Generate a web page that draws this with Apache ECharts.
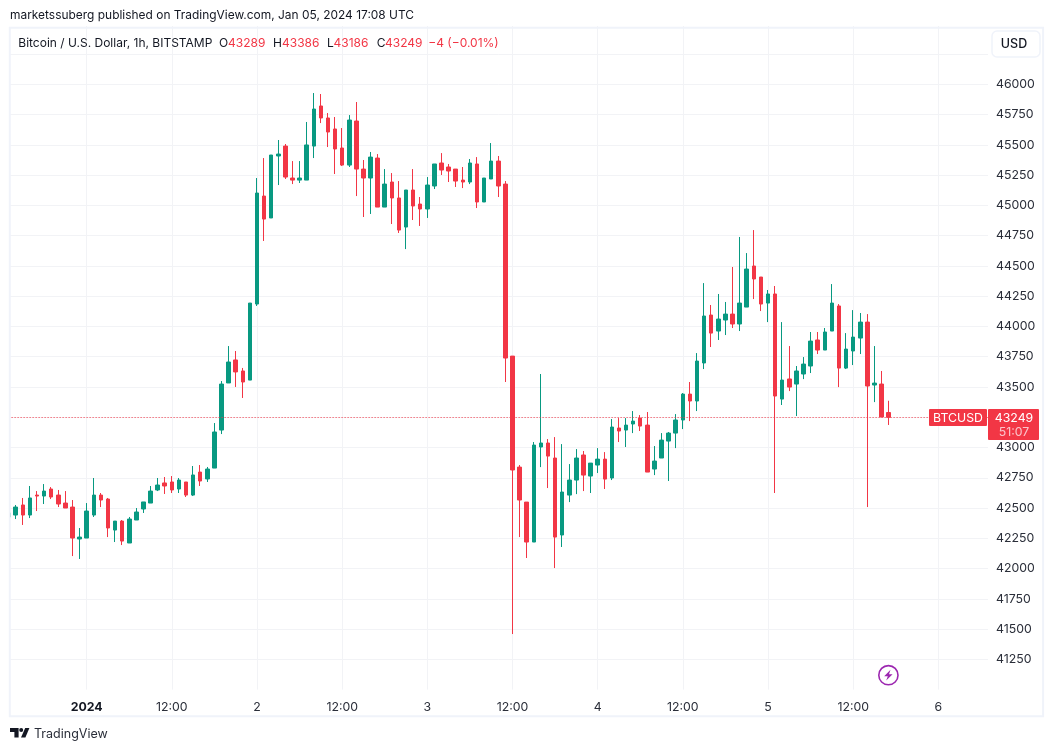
<!DOCTYPE html>
<html>
<head>
<meta charset="utf-8">
<style>html,body{margin:0;padding:0;background:#fff}#c{width:1054px;height:751px}</style>
<script src="https://cdn.jsdelivr.net/npm/echarts@6/dist/echarts.min.js"></script>
</head>
<body>
<div id="c"></div>
<script>
const opens = [
42426,42442,42525,42442,42607,42599,42657,42607,42541,42508,
42244,42252,42442,42607,42574,42318,42392,42211,42401,42492,
42541,42649,42707,42715,42657,42715,42607,42797,42740,42830,
43144,43533,43723,43632,43557,44185,45077,44896,45408,45490,
45226,45209,45209,45490,45821,45722,45631,45474,45333,45697,
45300,45226,45391,44986,45193,45061,44821,45127,45011,44970,
45160,45350,45317,45300,45209,45193,45342,45028,45218,45366,
45176,43755,42838,42549,42219,43004,43037,42913,42277,42607,
42731,42938,42764,42855,42904,42748,43161,43144,43194,43243,
43185,42822,42913,43053,43119,43227,43441,43384,43698,44094,
43962,44053,44102,44020,44160,44499,44408,44193,44268,43400,
43566,43524,43607,43673,43888,43805,43962,44169,43656,43797,
43904,44036,43516,43524,43289];
const closes = [
42459,42508,42442,42583,42599,42640,42591,42533,42500,42252,
42260,42475,42607,42566,42335,42392,42227,42409,42467,42550,
42640,42690,42682,42649,42731,42607,42773,42723,42822,43128,
43524,43706,43624,43541,44193,45102,44887,45416,45424,45234,
45209,45226,45499,45796,45722,45606,45466,45333,45705,45300,
45226,45399,44986,45176,45061,44796,45127,44995,44970,45168,
45342,45292,45284,45201,45193,45350,45028,45226,45366,45160,
43739,42814,42566,42219,43020,43037,42929,42260,42632,42731,
42913,42772,42871,42904,42739,43169,43136,43185,43218,43177,
42797,42888,43061,43119,43227,43441,43384,43714,44086,43945,
44061,44102,44020,44193,44474,44392,44185,44268,43425,43557,
43499,43632,43689,43879,43805,43954,44193,43656,43813,43912,
44036,43508,43532,43252,43249];
const lows = [
42410,42409,42360,42417,42475,42533,42574,42508,42500,42103,
42079,42252,42426,42508,42260,42219,42194,42211,42401,42459,
42541,42640,42616,42624,42624,42591,42599,42682,42715,42830,
43111,43533,43500,43409,43557,44169,44706,44896,45168,45218,
45176,45185,45209,45391,45680,45482,45259,45325,45317,45077,
44904,44929,44986,44986,44846,44772,44639,44879,44830,44896,
45135,45251,45193,45152,45143,45176,44978,45028,45218,45069,
43541,41459,42260,42087,42219,42838,42665,42004,42178,42549,
42615,42640,42624,42789,42657,42731,43045,43004,43119,43136,
42797,42772,42913,42723,42995,43152,43218,43301,43648,43830,
43888,43929,43987,43962,44160,44226,44127,44036,42624,43351,
43466,43260,43565,43615,43772,43805,43962,43499,43648,43681,
43772,42508,43375,43252,43186];
const highs = [
42470,42525,42583,42682,42640,42698,42673,42649,42640,42566,
42335,42541,42748,42624,42583,42392,42401,42426,42500,42550,
42682,42748,42756,42764,42748,42715,42847,42855,42839,43202,
43549,43838,43797,43657,44193,45226,45391,45416,45540,45507,
45366,45366,45689,45928,45920,45763,45730,45639,45746,45854,
45375,45441,45424,45300,45267,45201,45127,45300,45069,45234,
45342,45432,45342,45300,45317,45383,45399,45226,45515,45408,
45201,43755,42855,42549,43045,43607,43070,43086,43028,42863,
42987,42971,42871,42995,42962,43235,43243,43243,43301,43268,
43293,43012,43119,43128,43276,43450,43541,43780,44358,44177,
44268,44202,44491,44739,44606,44796,44408,44301,44334,44036,
43838,43673,43747,43954,43954,43987,44350,44185,43945,44135,
44111,44102,43838,43632,43386];
const tickLabels = {11:'2024',23:'12:00',35:'2',47:'12:00',59:'3',71:'12:00',83:'4',95:'12:00',107:'5',119:'12:00',131:'6'};
const hiddenPriceLabel = 46250;
const lastPrice = 43249;
const countdown = '51:07';
const categories = [];
for (let i = 0; i < 139; i++) categories.push('h' + i);
const candles = opens.map((o, i) => [o, closes[i], lows[i], highs[i]]);

const RED = '#F23645', GREEN = '#089981', INK = '#131722', FRAME = '#F0F3FA', GRID = '#F2F3F6';
const FONT = 'Inter, "Noto Sans", sans-serif';
const isTick = (i) => tickLabels[i] !== undefined;

const chart = echarts.init(document.getElementById('c'), null, {renderer: 'canvas', width: 1054, height: 751});

const txt = (x, y, text, o) => ({type: 'text', z: 120, x, y, silent: true, style: Object.assign({
  text, fill: INK, font: '11.95px ' + FONT, textVerticalAlign: 'middle', textAlign: 'left'}, o || {})});
const head = (x, text, fill, size) => txt(x, 43, text, {fill: fill || INK, font: (size || 12) + 'px ' + FONT});

chart.setOption({
  animation: false,
  backgroundColor: '#fff',
  grid: {left: 8.6, right: 66, top: 23.8, bottom: 61.4, containLabel: false},
  xAxis: {
    type: 'category', data: categories, boundaryGap: false,
    axisLine: {show: false}, axisTick: {show: false},
    splitLine: {show: true, interval: (i) => isTick(i), lineStyle: {color: GRID, width: 1}},
    axisLabel: {
      show: true, interval: (i) => isTick(i), margin: 12,
      formatter: (v, i) => i === 11 ? '{b|' + tickLabels[i] + '}' : (tickLabels[i] || ''),
      color: '#2A2E39', fontFamily: FONT, fontSize: 12.3,
      rich: {b: {fontFamily: FONT, fontSize: 12.3, fontWeight: 700, color: INK}}
    }
  },
  yAxis: {
    type: 'value', position: 'right', min: 41000, max: 46500, interval: 250, scale: true,
    axisLine: {show: false}, axisTick: {show: false},
    splitLine: {show: true, showMinLine: false, showMaxLine: false, lineStyle: {color: GRID, width: 1}},
    axisLabel: {show: true, showMinLabel: false, showMaxLabel: false, margin: 8, color: '#2A2E39', fontFamily: FONT, fontSize: 12.3, align: 'left', formatter: (v) => v === hiddenPriceLabel ? '' : String(v)}
  },
  series: [{
    type: 'candlestick', data: candles, barWidth: 4, clip: true,
    itemStyle: {color: GREEN, color0: RED, borderColor: GREEN, borderColor0: RED, borderWidth: 1},
    markLine: {
      silent: true, symbol: 'none', animation: false, label: {show: false},
      lineStyle: {color: RED, type: [1, 2], width: 1, opacity: 1},
      emphasis: {disabled: true},
      data: [{yAxis: lastPrice}]
    }
  }],
  graphic: {elements: [
    {type: 'rect', z: 100, silent: true, shape: {x: 0, y: 0, width: 1054, height: 26}, style: {fill: '#fff'}},
    {type: 'rect', z: 100, silent: true, shape: {x: 0, y: 0, width: 9.8, height: 751}, style: {fill: '#fff'}},
    {type: 'rect', z: 101, silent: true, shape: {x: 9.8, y: 27.8, width: 1033.3, height: 688.4}, style: {fill: 'none', stroke: FRAME, lineWidth: 2}},
    txt(10, 15.5, 'marketssuberg published on TradingView.com, Jan 05, 2024 17:08 UTC'),
    head(18.3, 'Bitcoin / U.S. Dollar, 1h, BITSTAMP', INK, 12),
    head(219, 'O'), head(228, '43289', RED),
    head(273, 'H'), head(282, '43386', RED),
    head(327, 'L'), head(333.5, '43186', RED),
    head(376.7, 'C'), head(385, '43249', RED),
    head(428.3, '\u22124 (\u22120.01%)', RED),
    {type: 'rect', z: 110, silent: true, shape: {x: 992, y: 31, width: 48, height: 26, r: 5}, style: {fill: '#fff', stroke: FRAME, lineWidth: 1.5}},
    txt(1014, 44, 'USD', {textAlign: 'center', font: '500 12.5px ' + FONT}),
    {type: 'rect', z: 110, silent: true, shape: {x: 929, y: 409, width: 58, height: 17, r: 1}, style: {fill: RED}},
    txt(958, 418, 'BTCUSD', {textAlign: 'center', fill: '#fff', font: '12.3px ' + FONT}),
    {type: 'rect', z: 110, silent: true, shape: {x: 988, y: 409, width: 51, height: 31, r: 1}, style: {fill: RED}},
    txt(1014, 418, String(lastPrice), {textAlign: 'center', fill: '#fff', font: '12.3px ' + FONT}),
    txt(1014, 432, countdown, {textAlign: 'center', fill: '#FBC4CA', font: '12.3px ' + FONT}),
    {type: 'circle', z: 110, silent: true, shape: {cx: 888.4, cy: 675.2, r: 9.6}, style: {fill: '#fff', stroke: '#9C27B0', lineWidth: 1.6}},
    {type: 'polygon', z: 111, silent: true, shape: {points: [[890.5,669.8],[884.2,676.2],[887.8,676.2],[886.2,680.6],[892.6,674.2],[889,674.2]]}, style: {fill: '#9C27B0'}},
    {type: 'polygon', z: 110, silent: true, shape: {points: [[10,728],[18.6,728],[18.6,737.4],[14.4,737.4],[14.4,732],[10,732]]}, style: {fill: INK}},
    {type: 'circle', z: 110, silent: true, shape: {cx: 21.2, cy: 730, r: 2}, style: {fill: INK}},
    {type: 'polygon', z: 110, silent: true, shape: {points: [[25.2,728],[29.4,728],[25.4,737.4],[21,737.4]]}, style: {fill: INK}},
    txt(34, 734, 'TradingView', {font: '12.5px ' + FONT, fill: '#2A2E39'})
  ]}
});
</script>
</body>
</html>
